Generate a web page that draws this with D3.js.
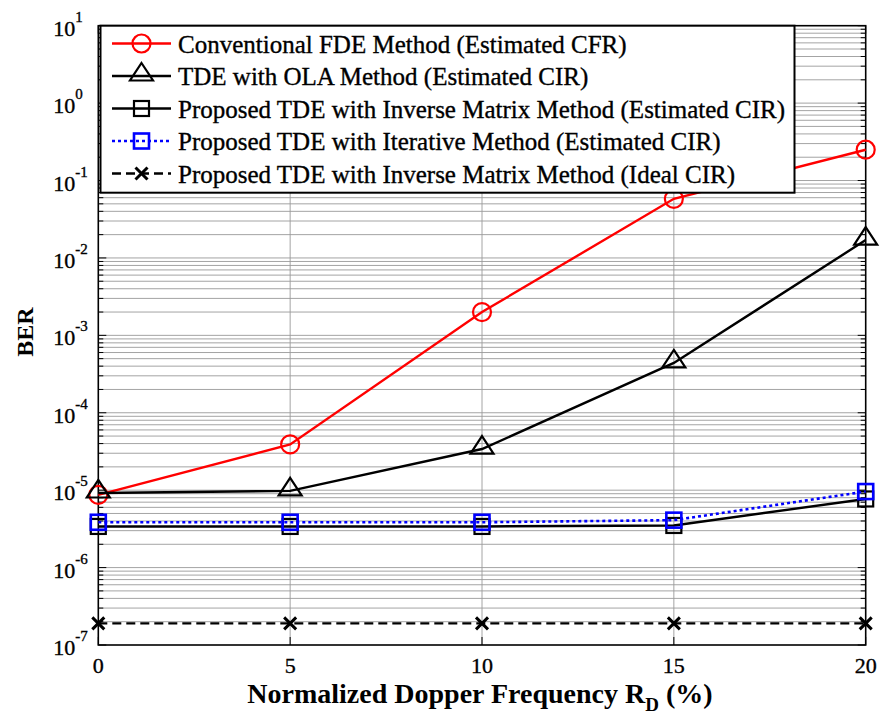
<!DOCTYPE html>
<html>
<head>
<meta charset="utf-8">
<script src="https://cdn.jsdelivr.net/npm/d3@7"></script>
<style>
  html, body { margin: 0; padding: 0; background: #fff; }
  svg { display: block; }
  svg text { font-family: "Liberation Serif", "Times New Roman", Times, serif; }
  svg text.reg { stroke: #000; stroke-width: 0.35px; }
</style>
</head>
<body>
<svg id="chart" width="881" height="722"></svg>
<script>
// data
var dopplerPct   = [ 0, 5, 10, 15, 20 ];
var berFdeEst    = [ 8.7e-6, 3.9e-5, 2.0e-3, 5.8e-2, 0.25 ];
var berOlaEst    = [ 9.2e-6, 9.8e-6, 3.4e-5, 4.4e-4, 1.7e-2 ];
var berInvEst    = [ 3.4e-6, 3.4e-6, 3.4e-6, 3.5e-6, 7.7e-6 ];
var berIterEst   = [ 3.85e-6, 3.85e-6, 3.85e-6, 4.1e-6, 9.6e-6 ];
var berInvIdeal  = [ 1.9e-7, 1.9e-7, 1.9e-7, 1.9e-7, 1.9e-7 ];

var seriesNames = [
  'Conventional FDE Method (Estimated CFR)',
  'TDE with OLA Method (Estimated CIR)',
  'Proposed TDE with Inverse Matrix Method (Estimated CIR)',
  'Proposed TDE with Iterative Method (Estimated CIR)',
  'Proposed TDE with Inverse Matrix Method (Ideal CIR)'
];
var xTicks = [ 0, 5, 10, 15, 20 ];
var yExponents = [ 1, 0, -1, -2, -3, -4, -5, -6, -7 ];

var FONT = '"Liberation Serif", "Times New Roman", Times, serif';

// styles per series
var styles = [
  { color: '#ff0000', dash: null,   marker: 'circle' },
  { color: '#000000', dash: null,   marker: 'triangle' },
  { color: '#000000', dash: null,   marker: 'square' },
  { color: '#0000ff', dash: '3,3',  marker: 'square' },
  { color: '#000000', dash: '9,5',  marker: 'cross' }
];
var allSeries = [ berFdeEst, berOlaEst, berInvEst, berIterEst, berInvIdeal ];

var margin = { top: 25.7, right: 15.3, bottom: 77, left: 98.3 },
    W = 881, H = 722,
    width  = W - margin.left - margin.right,
    height = H - margin.top - margin.bottom;

var svg = d3.select('#chart').attr('font-family', FONT);
var g = svg.append('g').attr('transform', 'translate(' + margin.left + ',' + margin.top + ')');

var xScale = d3.scaleLinear().domain([0, 20]).range([0, width]);
var yScale = d3.scaleLog().domain([1e-7, 10]).range([height, 0]);

// minor + major grid values
var gridVals = [];
for (var e = -7; e < 1; e++) {
  for (var k = 1; k <= 9; k++) gridVals.push(k * Math.pow(10, e));
}
gridVals.push(10);

g.append('g').selectAll('line.hg')
  .data(gridVals.filter(function(v){ return v > 1e-7 && v < 10; }))
  .enter().append('line')
    .attr('x1', 0).attr('x2', width)
    .attr('y1', function(d){ return yScale(d); })
    .attr('y2', function(d){ return yScale(d); })
    .attr('stroke', '#9a9a9a').attr('stroke-width', 0.9);

g.append('g').selectAll('line.vg')
  .data(xTicks.slice(1, -1))
  .enter().append('line')
    .attr('x1', function(d){ return xScale(d); })
    .attr('x2', function(d){ return xScale(d); })
    .attr('y1', 0).attr('y2', height)
    .attr('stroke', '#9a9a9a').attr('stroke-width', 0.9);

// inward ticks on all four sides
var isMajor = function(v){ return Math.abs(Math.log10(v) - Math.round(Math.log10(v))) < 1e-6; };
var yt = g.append('g');
gridVals.forEach(function(v){
  var len = isMajor(v) ? 8 : 5, y = yScale(v);
  yt.append('line').attr('x1', 0).attr('x2', len).attr('y1', y).attr('y2', y)
    .attr('stroke', '#000').attr('stroke-width', 1);
  yt.append('line').attr('x1', width).attr('x2', width - len).attr('y1', y).attr('y2', y)
    .attr('stroke', '#000').attr('stroke-width', 1);
});
xTicks.forEach(function(v){
  var x = xScale(v);
  yt.append('line').attr('x1', x).attr('x2', x).attr('y1', height).attr('y2', height - 8)
    .attr('stroke', '#000').attr('stroke-width', 1);
  yt.append('line').attr('x1', x).attr('x2', x).attr('y1', 0).attr('y2', 8)
    .attr('stroke', '#000').attr('stroke-width', 1);
});

// axis box
g.append('rect').attr('x', 0).attr('y', 0).attr('width', width).attr('height', height)
  .attr('fill', 'none').attr('stroke', '#000').attr('stroke-width', 1.6);

// y tick labels 10^n
var ylab = g.append('g');
yExponents.forEach(function(ex){
  var y = yScale(Math.pow(10, ex));
  ylab.append('text').attr('class', 'reg').attr('x', -23).attr('y', y + 10).attr('font-family', FONT)
    .attr('text-anchor', 'end').attr('font-size', 22).text('10');
  ylab.append('text').attr('class', 'reg').attr('x', -23).attr('y', y - 4).attr('font-family', FONT)
    .attr('text-anchor', 'start').attr('font-size', 15).text(String(ex));
});

// x tick labels
g.append('g').selectAll('text.xt')
  .data(xTicks).enter().append('text')
    .attr('class', 'reg')
    .attr('x', function(d){ return xScale(d); })
    .attr('y', height + 28)
    .attr('font-family', FONT)
    .attr('text-anchor', 'middle').attr('font-size', 22)
    .text(function(d){ return d; });

// axis titles
var xt = g.append('text').attr('x', width / 2 - 2).attr('y', height + 58)
  .attr('font-family', FONT)
  .attr('text-anchor', 'middle').attr('font-size', 28).attr('font-weight', 'bold');
xt.append('tspan').text('Normalized Dopper Frequency R');
xt.append('tspan').attr('font-size', 19).attr('dy', 8).text('D');
xt.append('tspan').attr('dy', -8).text(' (%)');

svg.append('text').attr('transform', 'translate(33,332) rotate(-90)')
  .attr('font-family', FONT)
  .attr('text-anchor', 'middle').attr('font-size', 24).attr('font-weight', 'bold').text('BER');

// markers
function drawMarker(sel, type, color, x, y) {
  if (type === 'circle') {
    sel.append('circle').attr('cx', x).attr('cy', y).attr('r', 9)
      .attr('fill', 'none').attr('stroke', color).attr('stroke-width', 2.2);
  } else if (type === 'triangle') {
    sel.append('path').attr('transform', 'translate(' + x + ',' + y + ')')
      .attr('d', 'M0,-13L11.5,4.5L-11.5,4.5Z')
      .attr('fill', 'none').attr('stroke', color).attr('stroke-width', 2.2);
  } else if (type === 'square') {
    sel.append('rect').attr('x', x - 7.5).attr('y', y - 7.5).attr('width', 15).attr('height', 15)
      .attr('fill', 'none').attr('stroke', color).attr('stroke-width', color === '#0000ff' ? 2.6 : 2.2);
  } else if (type === 'cross') {
    sel.append('path').attr('transform', 'translate(' + x + ',' + y + ')')
      .attr('d', 'M-6,-6L6,6M-6,6L6,-6')
      .attr('fill', 'none').attr('stroke', color).attr('stroke-width', 3);
  }
}

var line = d3.line()
  .x(function(d){ return xScale(d[0]); })
  .y(function(d){ return yScale(d[1]); });

allSeries.forEach(function(vals, i){
  var st = styles[i];
  var pts = dopplerPct.map(function(x, j){ return [x, vals[j]]; });
  var sg = g.append('g');
  sg.append('path').datum(pts).attr('d', line)
    .attr('fill', 'none').attr('stroke', st.color).attr('stroke-width', i === 3 ? 2.6 : 2.4)
    .attr('stroke-dasharray', st.dash);
  pts.forEach(function(p){
    drawMarker(sg, st.marker, st.color, xScale(p[0]), yScale(p[1]));
  });
});

// legend
var lg = svg.append('g');
lg.append('rect').attr('x', 100.5).attr('y', 25.7).attr('width', 694).attr('height', 167)
  .attr('fill', '#fff').attr('stroke', '#000').attr('stroke-width', 2);
seriesNames.forEach(function(name, i){
  var st = styles[i], y = 43.5 + i * 32.5;
  lg.append('line').attr('x1', 112).attr('x2', 171).attr('y1', y).attr('y2', y)
    .attr('stroke', st.color).attr('stroke-width', i === 3 ? 2.6 : 2.4)
    .attr('stroke-dasharray', st.dash);
  drawMarker(lg, st.marker, st.color, 141.5, y);
  lg.append('text').attr('class', 'reg').attr('x', 178).attr('y', y + 9).attr('font-family', FONT)
    .attr('font-size', 25).text(name);
});
</script>
</body>
</html>
